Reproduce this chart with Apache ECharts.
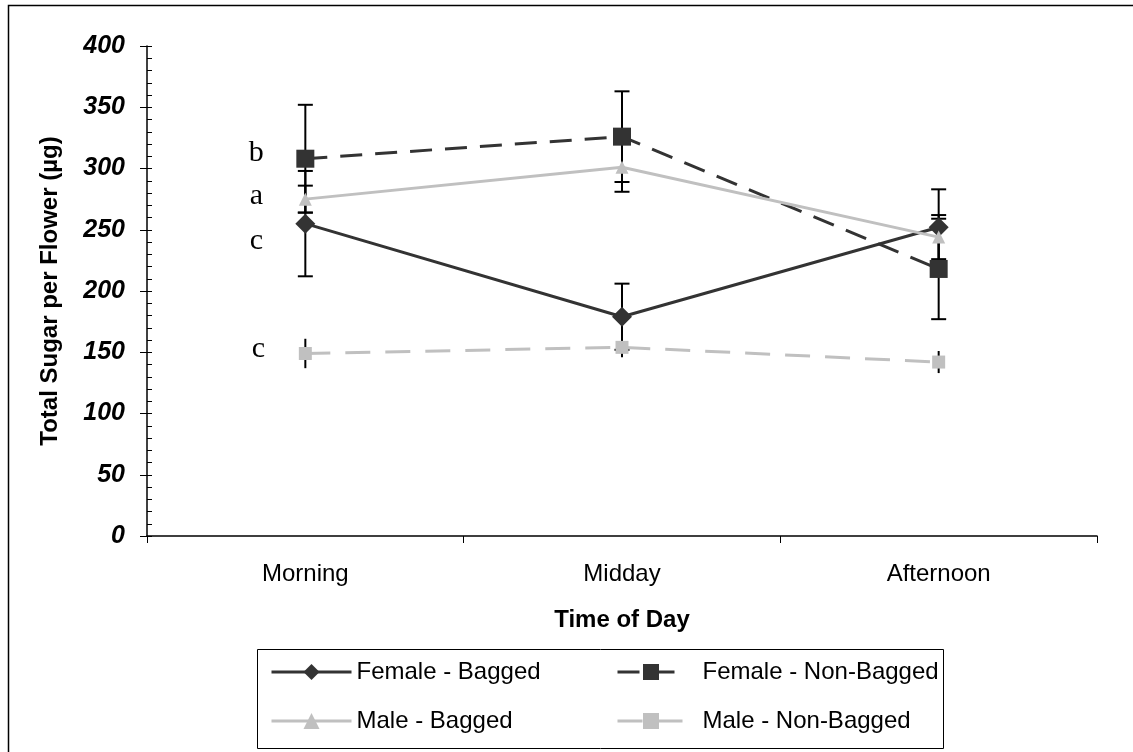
<!DOCTYPE html>
<html><head><meta charset="utf-8">
<script src="https://cdn.jsdelivr.net/npm/echarts@6/dist/echarts.min.js"></script>
<style>html,body{margin:0;padding:0;background:#fff}#c{width:1133px;height:752px}</style>
</head><body><div id="c"></div>
<script>
const categories = ['Morning', 'Midday', 'Afternoon'];
const seriesNames = ['Female - Bagged', 'Female - Non-Bagged', 'Male - Bagged', 'Male - Non-Bagged'];
const femaleBagged = [255, 179, 252];
const femaleBaggedErr = [43, 27, 31];
const femaleNonBagged = [308, 326, 218];
const femaleNonBaggedErr = [44, 37, 41];
const maleBagged = [275, 301, 244];
const maleBaggedErr = [11, 20, 18];
const maleNonBagged = [149, 154, 142];
const maleNonBaggedErr = [12, 8, 9];
const sigLetters = ['c', 'b', 'a', 'c'];
const yMin = 0, yMax = 400, yStep = 50, yMinorStep = 10;

const means = [femaleBagged, femaleNonBagged, maleBagged, maleNonBagged];
const errs = [femaleBaggedErr, femaleNonBaggedErr, maleBaggedErr, maleNonBaggedErr];

const dark = '#333333', light = '#c0c0c0';
const looks = [
  { color: dark, dash: 'solid', symbol: 'diamond', size: 20, off: [-49, 17], caps: true },
  { color: dark, dash: [22, 13], symbol: 'rect', size: 18, off: [-49, -6], caps: true },
  { color: light, dash: 'solid', symbol: 'triangle', size: 13, off: [-49, -3], caps: true },
  { color: light, dash: [25, 15], symbol: 'rect', size: 13, off: [-47, -4], caps: false }
];
const sans = 'Arial, "Liberation Sans", sans-serif';

const errData = [];
means.forEach((m, s) => m.forEach((v, i) => errData.push([i, v - errs[s][i], v + errs[s][i], looks[s].caps ? 1 : 0])));

const lineSeries = means.map((m, s) => ({
  name: seriesNames[s],
  type: 'line',
  z: 3 + s,
  symbol: looks[s].symbol,
  symbolSize: looks[s].size,
  showSymbol: true,
  lineStyle: { color: looks[s].color, width: 3, type: looks[s].dash },
  itemStyle: { color: looks[s].color, borderWidth: 0 },
  emphasis: { disabled: true },
  data: m.map((v, i) => i === 0 ? {
    value: v,
    label: {
      show: true, formatter: sigLetters[s], position: 'inside', offset: looks[s].off,
      fontFamily: '"Liberation Serif", "Times New Roman", serif', fontSize: 30, color: '#000'
    }
  } : v)
}));

const errSeries = {
  type: 'custom',
  z: 1,
  silent: true,
  data: errData,
  renderItem: function (params, api) {
    const lo = api.coord([api.value(0), api.value(1)]);
    const hi = api.coord([api.value(0), api.value(2)]);
    const hw = 7.5;
    const st = { stroke: '#000', lineWidth: 2 };
    const kids = [{ type: 'line', shape: { x1: lo[0], y1: lo[1], x2: hi[0], y2: hi[1] }, style: st }];
    if (api.value(3)) {
      kids.push({ type: 'line', shape: { x1: lo[0] - hw, y1: lo[1], x2: lo[0] + hw, y2: lo[1] }, style: st });
      kids.push({ type: 'line', shape: { x1: hi[0] - hw, y1: hi[1], x2: hi[0] + hw, y2: hi[1] }, style: st });
    }
    return { type: 'group', children: kids };
  }
};

const chart = echarts.init(document.getElementById('c'), null, { renderer: 'canvas' });
chart.setOption({
  animation: false,
  backgroundColor: '#fff',
  grid: { left: 147, right: 36, top: 46, bottom: 216, containLabel: false },
  xAxis: {
    type: 'category',
    data: categories,
    boundaryGap: true,
    name: 'Time of Day',
    nameLocation: 'middle',
    nameGap: 72,
    nameTextStyle: { fontFamily: sans, fontSize: 24, fontWeight: 'bold', color: '#000' },
    axisLine: { lineStyle: { color: '#000', width: 1.5 } },
    axisTick: { show: true, length: 7, lineStyle: { color: '#000', width: 1 } },
    axisLabel: { fontFamily: sans, fontSize: 24, color: '#000', margin: 26 },
    splitLine: { show: false }
  },
  yAxis: [{
    type: 'value',
    min: yMin, max: yMax, interval: yStep,
    name: 'Total Sugar per Flower (µg)',
    nameLocation: 'middle',
    nameGap: 85,
    nameTextStyle: { fontFamily: sans, fontSize: 24, fontWeight: 'bold', color: '#000' },
    axisLine: { show: true, lineStyle: { color: '#000', width: 1.5 } },
    axisTick: { show: true, length: 7, lineStyle: { color: '#000', width: 1 } },
    axisLabel: { fontFamily: sans, fontSize: 25, fontWeight: 'bold', fontStyle: 'italic', color: '#000', margin: 22 },
    splitLine: { show: false }
  }, {
    type: 'value',
    position: 'left',
    min: yMin, max: yMax, interval: yMinorStep,
    axisLine: { show: false },
    axisTick: { show: true, inside: true, length: 5, lineStyle: { color: '#000', width: 1 } },
    axisLabel: { show: false },
    splitLine: { show: false }
  }],
  legend: [{
    data: [seriesNames[0], seriesNames[2]],
    orient: 'vertical',
    left: 270, top: 660, padding: 0,
    itemWidth: 80, itemHeight: 20, itemGap: 25,
    lineStyle: { width: 3 },
    textStyle: { fontFamily: sans, fontSize: 24, color: '#000' },
    selectedMode: false
  }, {
    data: [seriesNames[1], seriesNames[3]],
    orient: 'vertical',
    left: 616, top: 660, padding: 0,
    itemWidth: 67, itemHeight: 20, itemGap: 25,
    lineStyle: { width: 3 },
    textStyle: { fontFamily: sans, fontSize: 24, color: '#000', padding: [0, 0, 0, 13] },
    selectedMode: false
  }],
  graphic: [
    { type: 'rect', silent: true, shape: { x: 8.5, y: 5.5, width: 1200, height: 800 }, style: { fill: 'none', stroke: '#000', lineWidth: 1.5 } },
    { type: 'rect', silent: true, shape: { x: 257.5, y: 649.5, width: 686, height: 99 }, style: { fill: 'none', stroke: '#000', lineWidth: 1 } }
  ],
  series: [errSeries].concat(lineSeries)
});
</script>
</body></html>
